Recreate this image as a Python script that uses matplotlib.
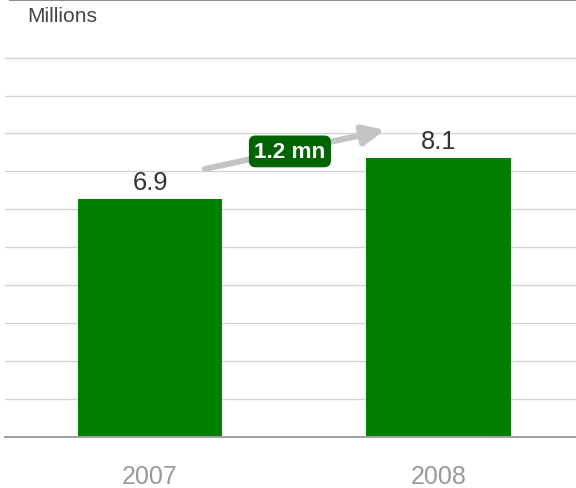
import numpy as np
import matplotlib
matplotlib.use("Agg")
import matplotlib.pyplot as plt
from matplotlib.lines import Line2D

# data
years = ["2007", "2008"]
values = [6.9, 8.1]

plt.rcParams["font.family"] = ["Liberation Sans", "DejaVu Sans"]

W, H, DPI = 576, 489, 100
px = 72 / DPI  # points per pixel

fig = plt.figure(figsize=(W / DPI, H / DPI), dpi=DPI)
ax = fig.add_axes([5 / W, 51 / H, 1 - 5 / W, (437 - 1) / H])

x = np.arange(len(years))
ax.bar(x, values, width=0.5, color="#007f00", zorder=2)

ax.set_xlim(-0.5026, 1.4766)
ax.set_ylim(0, 12.64)

# horizontal grid
ax.set_yticks(np.arange(1, 11) * 1.1)
ax.yaxis.grid(True, color="#d2d2d2", linewidth=1.3 * px)
ax.set_axisbelow(True)
ax.tick_params(axis="y", length=0, labelleft=False)

ax.set_xticks(x)
ax.set_xticklabels(years, fontsize=25 * px, color="#999999")
ax.tick_params(axis="x", length=0, pad=27 * px)

for s in ["left", "right", "top"]:
    ax.spines[s].set_visible(False)
ax.spines["bottom"].set_color("#a0a0a0")
ax.spines["bottom"].set_linewidth(2 * px)

# value labels
for xi, v in zip(x, values):
    ax.annotate(f"{v:.1f}", (xi, v), xytext=(0, 10 * px), textcoords="offset points",
                ha="center", va="baseline", fontsize=25.5 * px, color="#333333")

# growth arrow and badge
ax.annotate("", xy=(0.8146, 8.9), xytext=(0.19, 7.77),
            arrowprops=dict(arrowstyle="-|>,head_length=13,head_width=6",
                            mutation_scale=1, lw=6 * px, color="#c4c4c4",
                            shrinkA=0, shrinkB=0), zorder=3)
ax.text(0.485, 8.28, f"{values[1] - values[0]:.1f} mn", ha="center", va="center",
        fontsize=22.5 * px, fontweight="bold", color="white", zorder=4,
        bbox=dict(boxstyle="round,pad=0.24,rounding_size=0.3", fc="#006400", ec="none"))

# unit label and top rule
fig.text(27 / W, 1 - 22 / H, "Millions", fontsize=21 * px, color="#444444",
         ha="left", va="baseline")
fig.add_artist(Line2D([10 / W, 1], [1 - 1 / H, 1 - 1 / H], color="#8c8c8c",
                      linewidth=2 * px, transform=fig.transFigure))

fig.savefig("out.png", dpi=DPI)
